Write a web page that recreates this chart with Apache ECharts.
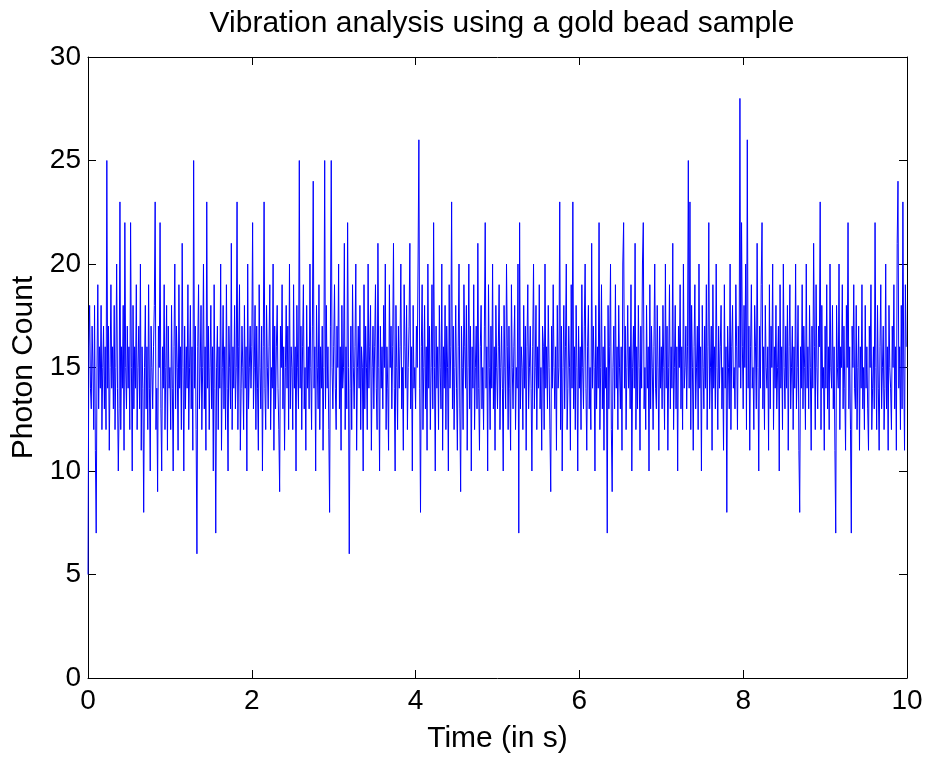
<!DOCTYPE html>
<html>
<head>
<meta charset="utf-8">
<script src="https://cdn.jsdelivr.net/npm/echarts@6/dist/echarts.min.js"></script>
<style>
  html, body { margin: 0; padding: 0; background: #fff; }
  #chart { width: 926px; height: 759px; }
</style>
</head>
<body>
<div id="chart"></div>
<script>
// photon counts per 10 ms bin, one array per second of recording
const sec0 = [5,16,18,14,13,17,15,12,18,11, 7,15,19,13,16,14,18,12,15,17, 13,16,12,25,14,17,11,15,19,14, 16,13,18,12,15,20,14,10,13,23,
  12,16,14,18,11,22,15,13,17,14, 16,12,22,15,10,18,13,16,14,19, 12,15,17,13,20,11,16,14,8,15, 18,13,16,12,19,14,10,17,15,13,
  16,18,23,12,14,9,17,15,22,13, 10,16,14,19,12,15,18,11,17,14];
const sec1 = [15,12,18,14,10,16,20,13,17,15, 11,19,14,16,12,21,15,10,17,13, 16,14,19,12,15,18,13,16,11,25, 14,17,12,6,16,19,13,15,18,12,
  15,20,13,16,11,23,14,17,12,15, 18,13,16,10,19,14,7,15,17,12, 16,14,20,11,15,18,13,16,12,19, 14,10,17,15,13,21,12,16,14,18,
  13,15,23,12,16,19,11,14,17,15, 12,18,14,16,10,20,13,15,17,14];
const sec2 = [16,22,13,15,18,12,17,14,11,19, 15,13,17,10,16,23,14,12,18,15, 13,16,19,12,15,14,20,11,17,13, 16,18,14,12,9,17,15,19,13,16,
  11,15,18,14,17,12,20,13,16,15, 12,19,14,16,10,18,15,13,25,14, 17,12,16,19,13,15,11,18,14,16, 13,20,15,12,17,24,14,16,10,18,
  15,13,19,12,16,14,17,11,15,25, 13,18,14,16,12,8,17,25,15,13];
const sec3 = [16,19,14,12,17,15,20,13,16,11, 18,14,15,21,12,16,13,22,15,6, 14,17,12,19,15,13,16,20,11,15, 17,14,18,12,16,15,10,19,13,17,
  15,12,20,14,16,18,11,15,17,13, 16,19,14,12,21,15,10,17,14,16, 13,18,15,20,12,16,14,11,19,15, 17,13,16,21,14,10,18,15,12,17,
  14,16,20,13,15,11,19,16,14,18, 12,15,17,21,13,16,10,18,14,15];
const sec4 = [13,17,15,20,26,14,8,16,19,12, 15,18,13,16,11,20,14,17,12,15, 19,13,22,15,10,17,14,16,12,18, 15,13,20,11,16,14,18,12,17,15,
  10,19,14,16,23,13,17,12,15,18, 14,11,16,20,13,9,17,15,12,19, 16,14,18,11,15,20,13,17,10,16, 14,19,12,15,17,13,21,14,11,16,
  18,13,15,12,17,22,14,16,10,19, 15,12,17,14,20,13,16,11,18,15];
const sec5 = [13,16,19,12,15,17,14,10,18,15, 13,20,16,12,17,14,11,19,15,13, 16,18,12,15,14,20,7,22,13,16, 15,12,18,14,17,11,16,19,13,15,
  17,14,10,16,20,13,15,18,12,16, 14,19,13,15,11,17,16,12,20,14, 16,13,18,15,12,9,17,14,19,15, 13,16,11,18,14,15,23,12,17,10,
  15,18,13,16,20,12,14,17,15,11, 19,14,23,13,16,12,18,15,10,17];
const sec6 = [14,16,12,19,15,13,17,20,14,11, 16,18,13,15,12,21,14,17,15,10, 18,13,16,14,22,12,15,19,13,16, 11,17,14,15,7,18,13,16,20,12,
  9,15,17,13,19,14,16,12,18,15, 13,16,11,20,22,14,17,12,15,18, 14,16,13,19,10,15,17,14,21,12, 16,13,18,15,11,17,14,20,22,13,
  15,12,18,14,16,10,19,13,17,15, 12,16,20,14,13,18,15,11,17,14];
const sec7 = [16,13,18,15,12,20,14,17,11,15, 19,13,16,14,21,12,15,18,13,16, 10,17,15,19,13,16,12,20,14,15, 17,13,16,25,14,23,12,18,15,11,
  16,19,13,15,17,12,20,14,16,10, 18,15,13,17,14,19,12,16,22,13, 15,17,11,19,14,16,13,20,15,12, 17,14,16,18,13,15,11,19,14,16,
  8,17,15,13,20,12,16,18,14,15, 13,19,16,12,17,15,28,14,22,16];
const sec8 = [13,18,15,20,12,26,14,17,11,16, 19,14,15,12,18,16,13,21,15,10, 17,14,19,22,13,16,12,18,15,14, 16,11,19,13,17,15,20,12,16,14,
  18,13,15,17,10,19,14,16,12,20, 15,13,17,14,18,11,16,19,13,15, 17,12,16,14,20,13,15,18,11,8, 16,14,19,13,17,15,12,20,14,16,
  13,18,15,11,17,14,21,16,12,19, 15,13,17,16,23,12,18,14,15,11];
const sec9 = [17,14,19,13,16,12,20,15,14,18, 13,16,11,7,18,15,14,20,12,16, 15,19,13,17,14,11,18,15,22,13, 16,12,7,17,15,19,14,13,18,12,
  15,17,11,16,14,19,13,15,12,18, 14,16,13,11,17,15,19,12,14,16, 13,22,15,12,18,14,11,16,19,13, 15,17,12,14,20,13,16,11,18,15,
  14,12,17,15,19,13,16,11,21,24, 14,16,12,18,13,23,15,11,19,16];

const binWidth = 0.01; // seconds
const xTicks = [0, 2, 4, 6, 8, 10];
const yTicks = [0, 5, 10, 15, 20, 25, 30];

const counts = [].concat(sec0, sec1, sec2, sec3, sec4, sec5, sec6, sec7, sec8, sec9);
const points = counts.map((c, i) => [+(i * binWidth).toFixed(2), c]);

const chart = echarts.init(document.getElementById('chart'));
const font = '"Liberation Sans", Arial, Helvetica, sans-serif';

const boxAxis = {
  min: 0,
  axisLine: { show: true, onZero: false, lineStyle: { color: '#000', width: 1 } },
  axisTick: { show: true, inside: true, length: 8, lineStyle: { color: '#000' } },
  splitLine: { show: false }
};

chart.setOption({
  animation: false,
  title: {
    text: 'Vibration analysis using a gold bead sample',
    left: 497,          // centred over the plot box, not the page
    textAlign: 'center',
    top: 4,
    textStyle: { fontFamily: font, fontSize: 30, fontWeight: 'normal', color: '#000' }
  },
  grid: { left: 88, right: 19, top: 57, bottom: 79 },
  xAxis: [
    Object.assign({}, boxAxis, {
      type: 'value', max: xTicks[xTicks.length - 1], interval: 2, position: 'bottom',
      name: 'Time (in s)', nameLocation: 'middle', nameGap: 46,
      nameTextStyle: { fontFamily: font, fontSize: 30, color: '#000' },
      axisLabel: { fontFamily: font, fontSize: 28, color: '#000', margin: 9 }
    }),
    Object.assign({}, boxAxis, {
      type: 'value', max: xTicks[xTicks.length - 1], interval: 2, position: 'top',
      axisLabel: { show: false }
    })
  ],
  yAxis: [
    Object.assign({}, boxAxis, {
      type: 'value', max: yTicks[yTicks.length - 1], interval: 5, position: 'left',
      name: 'Photon Count', nameLocation: 'middle', nameGap: 48,
      nameTextStyle: { fontFamily: font, fontSize: 30, color: '#000' },
      axisLabel: { fontFamily: font, fontSize: 28, color: '#000', margin: 7 }
    }),
    Object.assign({}, boxAxis, {
      type: 'value', max: yTicks[yTicks.length - 1], interval: 5, position: 'right',
      axisLabel: { show: false }
    })
  ],
  series: [{
    type: 'line',
    xAxisIndex: 0,
    yAxisIndex: 0,
    data: points,
    showSymbol: false,
    symbol: 'none',
    sampling: null,
    lineStyle: { color: '#0000ff', width: 1 }
  }]
});
</script>
</body>
</html>
